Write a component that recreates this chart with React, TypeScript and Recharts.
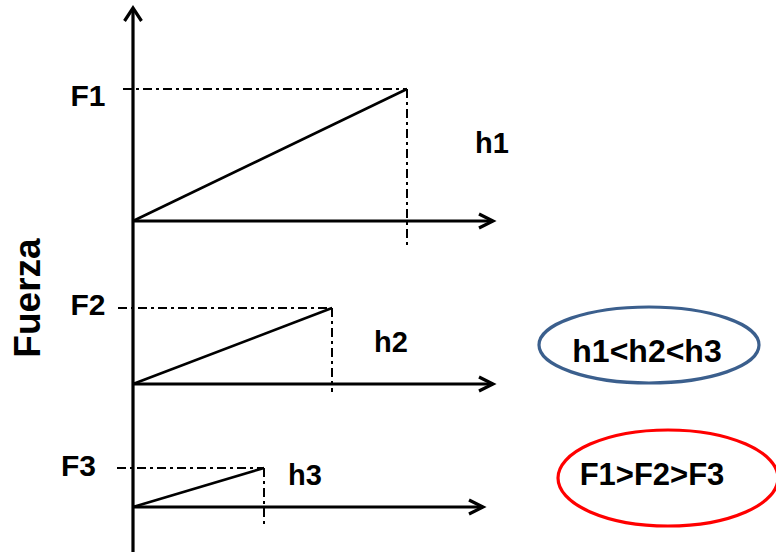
import React from 'react';
import { ComposedChart, Line, XAxis, YAxis, ReferenceDot } from 'recharts';

// ---- values (pixel-like units) ----
const forceLabels = ['F1', 'F2', 'F3'];
const deflectionLabels = ['h1', 'h2', 'h3'];
const forces = [132, 76, 39];        // F1 > F2 > F3
const deflections = [274, 199, 131]; // horizontal extent of each ramp
const yLabel = 'Fuerza';
const relationH = 'h1<h2<h3';
const relationF = 'F1>F2>F3';

// ---- layout (positions in chart units) ----
const layout = {
  baselines: [331, 168, 45],
  axisLen: [360, 360, 350],
  dashStart: [-10, -15, -16],
  dropBelow: [27, 8, 18],
  axisTop: 544,
  forceLabelPos: [[-45, 446], [-45, 237], [-54.5, 76]],
  hLabelPos: [[359, 399], [258, 200], [172, 67]],
  yLabelPos: [-93, 254],
  blueEllipse: { c: [516, 207], rx: 110, ry: 38, text: [514, 190] },
  redEllipse: { c: [535, 74], rx: 110, ry: 48, text: [519, 67] },
};

const FONT = '"Liberation Sans", Arial, Helvetica, sans-serif';
const DASH = '9 4 3 4';

type Pt = { x: number; y: number };
type Seg = { key: string; data: Pt[]; w: number; dash?: string };

const segments: Seg[] = [];
// vertical axis + arrow
segments.push({ key: 'vaxis', data: [{ x: 0, y: 0 }, { x: 0, y: layout.axisTop }], w: 3.2 });
segments.push({
  key: 'varrow',
  data: [{ x: -8.5, y: layout.axisTop - 13 }, { x: 0, y: layout.axisTop }, { x: 8.5, y: layout.axisTop - 13 }],
  w: 3.2,
});
forces.forEach((f, i) => {
  const b = layout.baselines[i];
  const h = deflections[i];
  const L = layout.axisLen[i];
  segments.push({ key: `ax${i}`, data: [{ x: 0, y: b }, { x: L, y: b }], w: 3.2 });
  segments.push({
    key: `arr${i}`,
    data: [{ x: L - 14, y: b + 7 }, { x: L, y: b }, { x: L - 14, y: b - 7 }],
    w: 3.2,
  });
  segments.push({ key: `ramp${i}`, data: [{ x: 0, y: b }, { x: h, y: b + f }], w: 2.6 });
  segments.push({ key: `hd${i}`, data: [{ x: layout.dashStart[i], y: b + f }, { x: h, y: b + f }], w: 2, dash: DASH });
  segments.push({ key: `vd${i}`, data: [{ x: h, y: b + f }, { x: h + 0.001, y: b - layout.dropBelow[i] }], w: 2, dash: DASH });
});

const textStyle = { fontFamily: FONT, fontWeight: 700, fill: '#000' } as const;

const TextShape = (txt: string, size: number, rotate = false) => (p: any) => (
  <text
    x={p.cx}
    y={p.cy}
    textAnchor="middle"
    fontSize={size}
    transform={rotate ? `rotate(-90, ${p.cx}, ${p.cy})` : undefined}
    style={textStyle}
  >
    {txt}
  </text>
);

const EllipseShape = (rx: number, ry: number, color: string) => (p: any) => (
  <ellipse cx={p.cx} cy={p.cy} rx={rx} ry={ry} fill="none" stroke={color} strokeWidth={3.2} />
);

export default function App() {
  return (
    <div style={{ position: 'absolute', left: 0, top: 0, width: 776, height: 552, background: '#fff' }}>
      <ComposedChart width={776} height={552} margin={{ top: 0, right: 0, bottom: 0, left: 0 }}>
        <XAxis type="number" dataKey="x" domain={[-133, 643]} hide allowDataOverflow />
        <YAxis type="number" dataKey="y" domain={[0, 552]} hide allowDataOverflow />
        {segments.map((s) => (
          <Line
            key={s.key}
            data={s.data}
            dataKey="y"
            type="linear"
            stroke="#000"
            strokeWidth={s.w}
            strokeDasharray={s.dash}
            strokeLinejoin="miter"
            dot={false}
            activeDot={false}
            isAnimationActive={false}
          />
        ))}
        <ReferenceDot
          x={layout.blueEllipse.c[0]}
          y={layout.blueEllipse.c[1]}
          r={0}
          shape={EllipseShape(layout.blueEllipse.rx, layout.blueEllipse.ry, '#3B5F8D')}
        />
        <ReferenceDot
          x={layout.redEllipse.c[0]}
          y={layout.redEllipse.c[1]}
          r={0}
          shape={EllipseShape(layout.redEllipse.rx, layout.redEllipse.ry, '#FF0000')}
        />
        {forceLabels.map((t, i) => (
          <ReferenceDot key={t} x={layout.forceLabelPos[i][0]} y={layout.forceLabelPos[i][1]} r={0} shape={TextShape(t, 30)} />
        ))}
        {deflectionLabels.map((t, i) => (
          <ReferenceDot key={t} x={layout.hLabelPos[i][0]} y={layout.hLabelPos[i][1]} r={0} shape={TextShape(t, 29)} />
        ))}
        <ReferenceDot x={layout.yLabelPos[0]} y={layout.yLabelPos[1]} r={0} shape={TextShape(yLabel, 37, true)} />
        <ReferenceDot x={layout.blueEllipse.text[0]} y={layout.blueEllipse.text[1]} r={0} shape={TextShape(relationH, 32)} />
        <ReferenceDot x={layout.redEllipse.text[0]} y={layout.redEllipse.text[1]} r={0} shape={TextShape(relationF, 31)} />
      </ComposedChart>
    </div>
  );
}
